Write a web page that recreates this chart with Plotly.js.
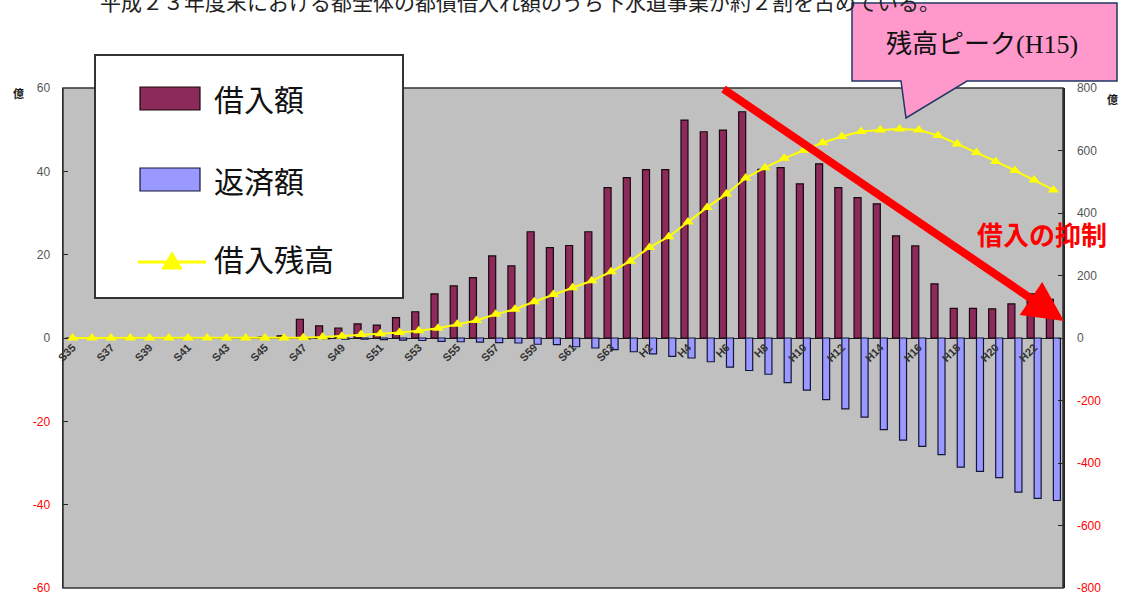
<!DOCTYPE html>
<html>
<head>
<meta charset="utf-8">
<script src="https://cdn.plot.ly/plotly-3.0.1.min.js"></script>
<style>html,body{margin:0;padding:0;background:#fff;}#chart{width:1126px;height:594px;}</style>
</head>
<body>
<div id="chart"></div>
<script>
// ---- data ----
const categories = [
  "S35","S36","S37","S38","S39","S40","S41","S42","S43","S44",
  "S45","S46","S47","S48","S49","S50","S51","S52","S53","S54",
  "S55","S56","S57","S58","S59","S60","S61","S62","S63",
  "H1","H2","H3","H4","H5","H6","H7","H8","H9","H10",
  "H11","H12","H13","H14","H15","H16","H17","H18","H19","H20",
  "H21","H22","H23"
];
const borrowing = [
  0,0,0,0,0,0,0,0,0,0,
  0.2,0.5,4.5,2.9,2.4,3.4,3.1,4.9,6.3,10.6,
  12.5,14.5,19.7,17.3,25.5,21.7,22.2,25.5,36.1,
  38.5,40.4,40.4,52.3,49.5,49.9,54.3,40.5,40.9,37.0,
  41.8,36.1,33.7,32.2,24.5,22.1,13.0,7.1,7.1,7.0,
  8.2,10.6,9.3
];
const repayment = [
  0,0,0,0,0,0,0,0,0,0,
  -0.1,-0.1,-0.2,-0.2,-0.3,-0.3,-0.4,-0.5,-0.6,-0.8,
  -0.9,-1.0,-1.1,-1.2,-1.5,-1.6,-2.1,-2.4,-2.8,
  -3.3,-3.8,-4.4,-4.8,-5.7,-7.0,-7.8,-8.7,-10.7,-12.5,
  -14.8,-17.0,-19.0,-22.0,-24.5,-26.0,-28.0,-31.0,-32.0,-33.5,
  -37.0,-38.5,-39.0
];
const balance = [
  0,0,0,0,0,0,0,0,0,0,
  0,0,1,3,6,11,14,18,23,31,
  44,56,76,92,116,139,161,183,212,
  246,290,324,371,418,461,512,545,575,600,
  625,645,661,666,669,666,648,621,594,565,
  536,506,474
];
const xTicks = ["S35","S37","S39","S41","S43","S45","S47","S49","S51","S53","S55","S57","S59","S61","S63",
                "H2","H4","H6","H8","H10","H12","H14","H16","H18","H20","H22"];
const leftTicks = [-60,-40,-20,0,20,40,60];
const rightTicks = [-800,-600,-400,-200,0,200,400,600,800];
const seriesNames = ["借入額","返済額","借入残高"];

// ---- helpers: pixel -> paper ----
const L = 63, R = 1063, T = 88, B = 588;
const px = x => (x - L) / (R - L);
const py = y => (B - y) / (B - T);

const redFill = "#8c2a5a", blueFill = "#9999ff";
const tickFont = {family: "Liberation Sans, Arial, sans-serif", size: 12, color: "#555"};
const lab = v => v < 0 ? '<span style="color:#ff0000">' + v + '</span>' : String(v);

const traces = [
  {type: "bar", name: seriesNames[0], x: categories, y: borrowing, yaxis: "y",
   marker: {color: redFill, line: {color: "#1a0810", width: 1.2}}, hoverinfo: "skip"},
  {type: "bar", name: seriesNames[1], x: categories, y: repayment, yaxis: "y",
   marker: {color: blueFill, line: {color: "#15153a", width: 1.2}}, hoverinfo: "skip"},
  {type: "scatter", mode: "lines+markers", name: seriesNames[2], x: categories, y: balance, yaxis: "y2",
   line: {color: "#ffff00", width: 2}, marker: {symbol: "triangle-up", size: 10, color: "#ffff00"},
   hoverinfo: "skip", cliponaxis: false}
];

const cjk = "Noto Sans CJK JP, sans-serif";
const layout = {
  width: 1126, height: 594,
  margin: {l: L, r: 1126 - R, t: T, b: 594 - B, pad: 0},
  paper_bgcolor: "#ffffff", plot_bgcolor: "#c0c0c0",
  showlegend: false,
  barmode: "group", bargap: 0.27, bargroupgap: 0,
  xaxis: {type: "category", categoryorder: "array", categoryarray: categories,
          range: [-0.5, categories.length - 0.5], autorange: false,
          anchor: "free", position: 0.5, showline: false, showgrid: false, zeroline: false,
          tickmode: "array", tickvals: xTicks, ticktext: xTicks, tickangle: -45,
          ticks: "", tickfont: {family: "Liberation Sans, Arial, sans-serif", size: 11, color: "#333", weight: "bold"}},
  yaxis: {range: [-60, 60], tickmode: "array", tickvals: leftTicks, ticktext: leftTicks.map(lab),
          showgrid: false, zeroline: true, zerolinecolor: "#222", zerolinewidth: 1,
          showline: true, linecolor: "#222", linewidth: 1.5, ticks: "inside", ticklen: 5, tickcolor: "#222",
          tickfont: tickFont, ticklabelstandoff: 9, ticklabeloverflow: "allow", fixedrange: true},
  yaxis2: {range: [-800, 800], overlaying: "y", side: "right", tickmode: "array", tickvals: rightTicks,
           ticktext: rightTicks.map(lab), showgrid: false, zeroline: false,
           showline: true, linecolor: "#222", linewidth: 1.5, ticks: "inside", ticklen: 5, tickcolor: "#222",
           tickfont: tickFont, ticklabelstandoff: 10, ticklabeloverflow: "allow", fixedrange: true},
  shapes: [
    {type: "rect", xref: "paper", yref: "paper", x0: 0, x1: 1, y0: 0, y1: 1,
     line: {color: "#333", width: 1.5}, layer: "above"},
    // legend box
    {type: "rect", xref: "paper", yref: "paper", x0: px(95), x1: px(403), y0: py(298), y1: py(55),
     fillcolor: "#ffffff", line: {color: "#333", width: 2}, layer: "above"},
    {type: "rect", xref: "paper", yref: "paper", x0: px(140), x1: px(200), y0: py(110), y1: py(87),
     fillcolor: redFill, line: {color: "#1a0810", width: 1.2}, layer: "above"},
    {type: "rect", xref: "paper", yref: "paper", x0: px(140), x1: px(200), y0: py(191), y1: py(168),
     fillcolor: blueFill, line: {color: "#15153a", width: 1.2}, layer: "above"},
    {type: "line", xref: "paper", yref: "paper", x0: px(138), x1: px(206), y0: py(262), y1: py(262),
     line: {color: "#ffff00", width: 3}, layer: "above"},
    {type: "path", xref: "paper", yref: "paper",
     path: "M" + px(162) + "," + py(269) + " L" + px(182) + "," + py(269) + " L" + px(172) + "," + py(252) + " Z",
     fillcolor: "#ffff00", line: {color: "#ffff00", width: 1}, layer: "above"},
    // callout
    {type: "path", xref: "paper", yref: "paper",
     path: "M" + px(852) + "," + py(3) + " L" + px(1117) + "," + py(3) + " L" + px(1117) + "," + py(81) +
           " L" + px(967) + "," + py(81) + " L" + px(906) + "," + py(118) + " L" + px(901) + "," + py(81) +
           " L" + px(852) + "," + py(81) + " Z",
     fillcolor: "#ff99cc", line: {color: "#1f3864", width: 1.5}, layer: "above"}
  ],
  annotations: [
    {xref: "paper", yref: "paper", x: px(212), y: py(98), xanchor: "left", yanchor: "middle", showarrow: false,
     text: seriesNames[0], font: {family: cjk, size: 30, color: "#111"}},
    {xref: "paper", yref: "paper", x: px(212), y: py(180), xanchor: "left", yanchor: "middle", showarrow: false,
     text: seriesNames[1], font: {family: cjk, size: 30, color: "#111"}},
    {xref: "paper", yref: "paper", x: px(212), y: py(258), xanchor: "left", yanchor: "middle", showarrow: false,
     text: seriesNames[2], font: {family: cjk, size: 30, color: "#111"}},
    {xref: "paper", yref: "paper", x: px(982), y: py(45), xanchor: "center", yanchor: "middle", showarrow: false,
     text: "残高ピーク(H15)", font: {family: "Liberation Serif, " + cjk, size: 26, color: "#111"}},
    {xref: "paper", yref: "paper", x: px(1042), y: py(233), xanchor: "center", yanchor: "middle", showarrow: false,
     text: "<b>借入の抑制</b>", font: {family: cjk, size: 26, color: "#ff0000"}},
    {xref: "paper", yref: "paper", x: px(1064), y: py(321), axref: "pixel", ayref: "pixel",
     ax: 722 - 1064, ay: 88 - 321, showarrow: true, text: "", arrowhead: 2, arrowsize: 1,
     arrowwidth: 8, arrowcolor: "#ff0000", standoff: 0},
    {xref: "paper", yref: "paper", x: px(18), y: py(93), xanchor: "center", yanchor: "middle", showarrow: false,
     text: "<b>億</b>", font: {family: cjk, size: 11, color: "#111"}},
    {xref: "paper", yref: "paper", x: px(1112), y: py(99), xanchor: "center", yanchor: "middle", showarrow: false,
     text: "<b>億</b>", font: {family: cjk, size: 11, color: "#111"}},
    {xref: "paper", yref: "paper", x: px(98), y: py(1), xanchor: "left", yanchor: "middle", showarrow: false,
     text: "平成２３年度末における都全体の都債借入れ額のうち下水道事業が約２割を占めている。",
     font: {family: cjk, size: 21, color: "#222"}}
  ]
};

Plotly.newPlot("chart", traces, layout, {staticPlot: true, displayModeBar: false});
</script>
</body>
</html>
